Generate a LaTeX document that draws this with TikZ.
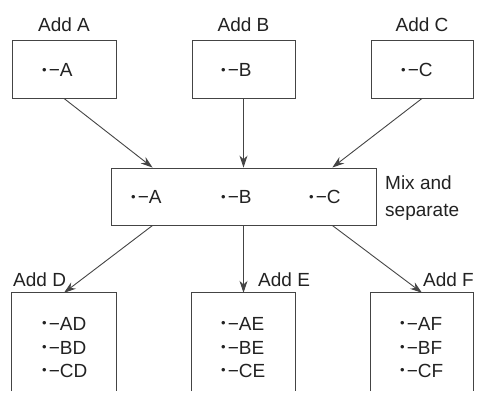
\documentclass[tikz,border=0pt]{standalone}
\usepackage{fontspec}
\setmainfont{Liberation Sans}
\usetikzlibrary{arrows.meta,calc}
\definecolor{ink}{HTML}{222222}
\definecolor{edge}{HTML}{444444}
\tikzset{
  box/.style={draw=edge, line width=0.9pt, inner sep=0pt},
  openbox/.style={inner sep=0pt},
  lbl/.style={inner sep=0pt, text=ink, font=\fontsize{19}{23}\selectfont},
  item/.style={inner sep=0pt, anchor=base west, text=ink, font=\fontsize{19}{23}\selectfont},
  flow/.style={draw=edge, line width=0.9pt, -{Stealth[length=12pt,width=8pt]}},
  wall/.style={draw=edge, line width=0.9pt}
}
% small bullet, a dash and the group name
\newcommand{\itm}[1]{\raisebox{2.4pt}{\fontsize{13}{13}\selectfont•}\kern2pt−#1}
\begin{document}
\begin{tikzpicture}[x=1pt,y=-1pt]
\useasboundingbox (0,0) rectangle (477,401);

% first row: single additions
\node[box, minimum width=104pt, minimum height=58pt] (a) at (64,69) {};
\node[box, minimum width=103pt, minimum height=58pt] (b) at (243.5,69) {};
\node[box, minimum width=102pt, minimum height=58pt] (c) at (422,69) {};
\node[lbl, anchor=base] (la) at (64,32) {Add A};
\node[lbl, anchor=base] (lb) at (243.5,32) {Add B};
\node[lbl, anchor=base] (lc) at (422,32) {Add C};
\node[item] (ia) at (42,77) {\itm{A}};
\node[item] (ib) at (221,77) {\itm{B}};
\node[item] (ic) at (401,77) {\itm{C}};

% pooled mixture
\node[box, minimum width=265pt, minimum height=57pt] (m) at (243.5,196.5) {};
\node[item] (ma) at (131,204) {\itm{A}};
\node[item] (mb) at (221,204) {\itm{B}};
\node[item] (mc) at (309,204) {\itm{C}};
\node[lbl, anchor=west, align=left, font=\fontsize{19}{27}\selectfont] (mix) at (385,198) {Mix and\\separate};

% second row: split and extend (open at the bottom)
\node[openbox, minimum width=104pt, minimum height=98pt] (d) at (64,342) {};
\node[openbox, minimum width=103pt, minimum height=98pt] (e) at (243.5,342) {};
\node[openbox, minimum width=102pt, minimum height=98pt] (f) at (422,342) {};
\foreach \n in {d,e,f}
  \draw[wall] (\n.south west) -- (\n.north west) -- (\n.north east) -- (\n.south east);
\node[lbl, anchor=base west] (ld) at (13,286) {Add D};
\node[lbl, anchor=base west] (le) at (258,286) {Add E};
\node[lbl, anchor=base east] (lf) at (474,286) {Add F};
\foreach \n/\x in {d/42, e/221, f/400} {
  \node[item] (\n1) at (\x,330) {\itm{A\MakeUppercase{\n}}};
  \node[item] (\n2) at (\x,354) {\itm{B\MakeUppercase{\n}}};
  \node[item] (\n3) at (\x,377) {\itm{C\MakeUppercase{\n}}};
}

% connectors
\draw[flow] (a.south) -- ($(m.north west)!0.158!(m.north east)$);
\draw[flow] (b.south) -- (m.north);
\draw[flow] (c.south) -- ($(m.north west)!0.834!(m.north east)$);
\draw[flow] ($(m.south west)!0.158!(m.south east)$) -- (d.north);
\draw[flow] (m.south) -- (e.north);
\draw[flow] ($(m.south west)!0.834!(m.south east)$) -- (f.north);
\end{tikzpicture}
\end{document}
